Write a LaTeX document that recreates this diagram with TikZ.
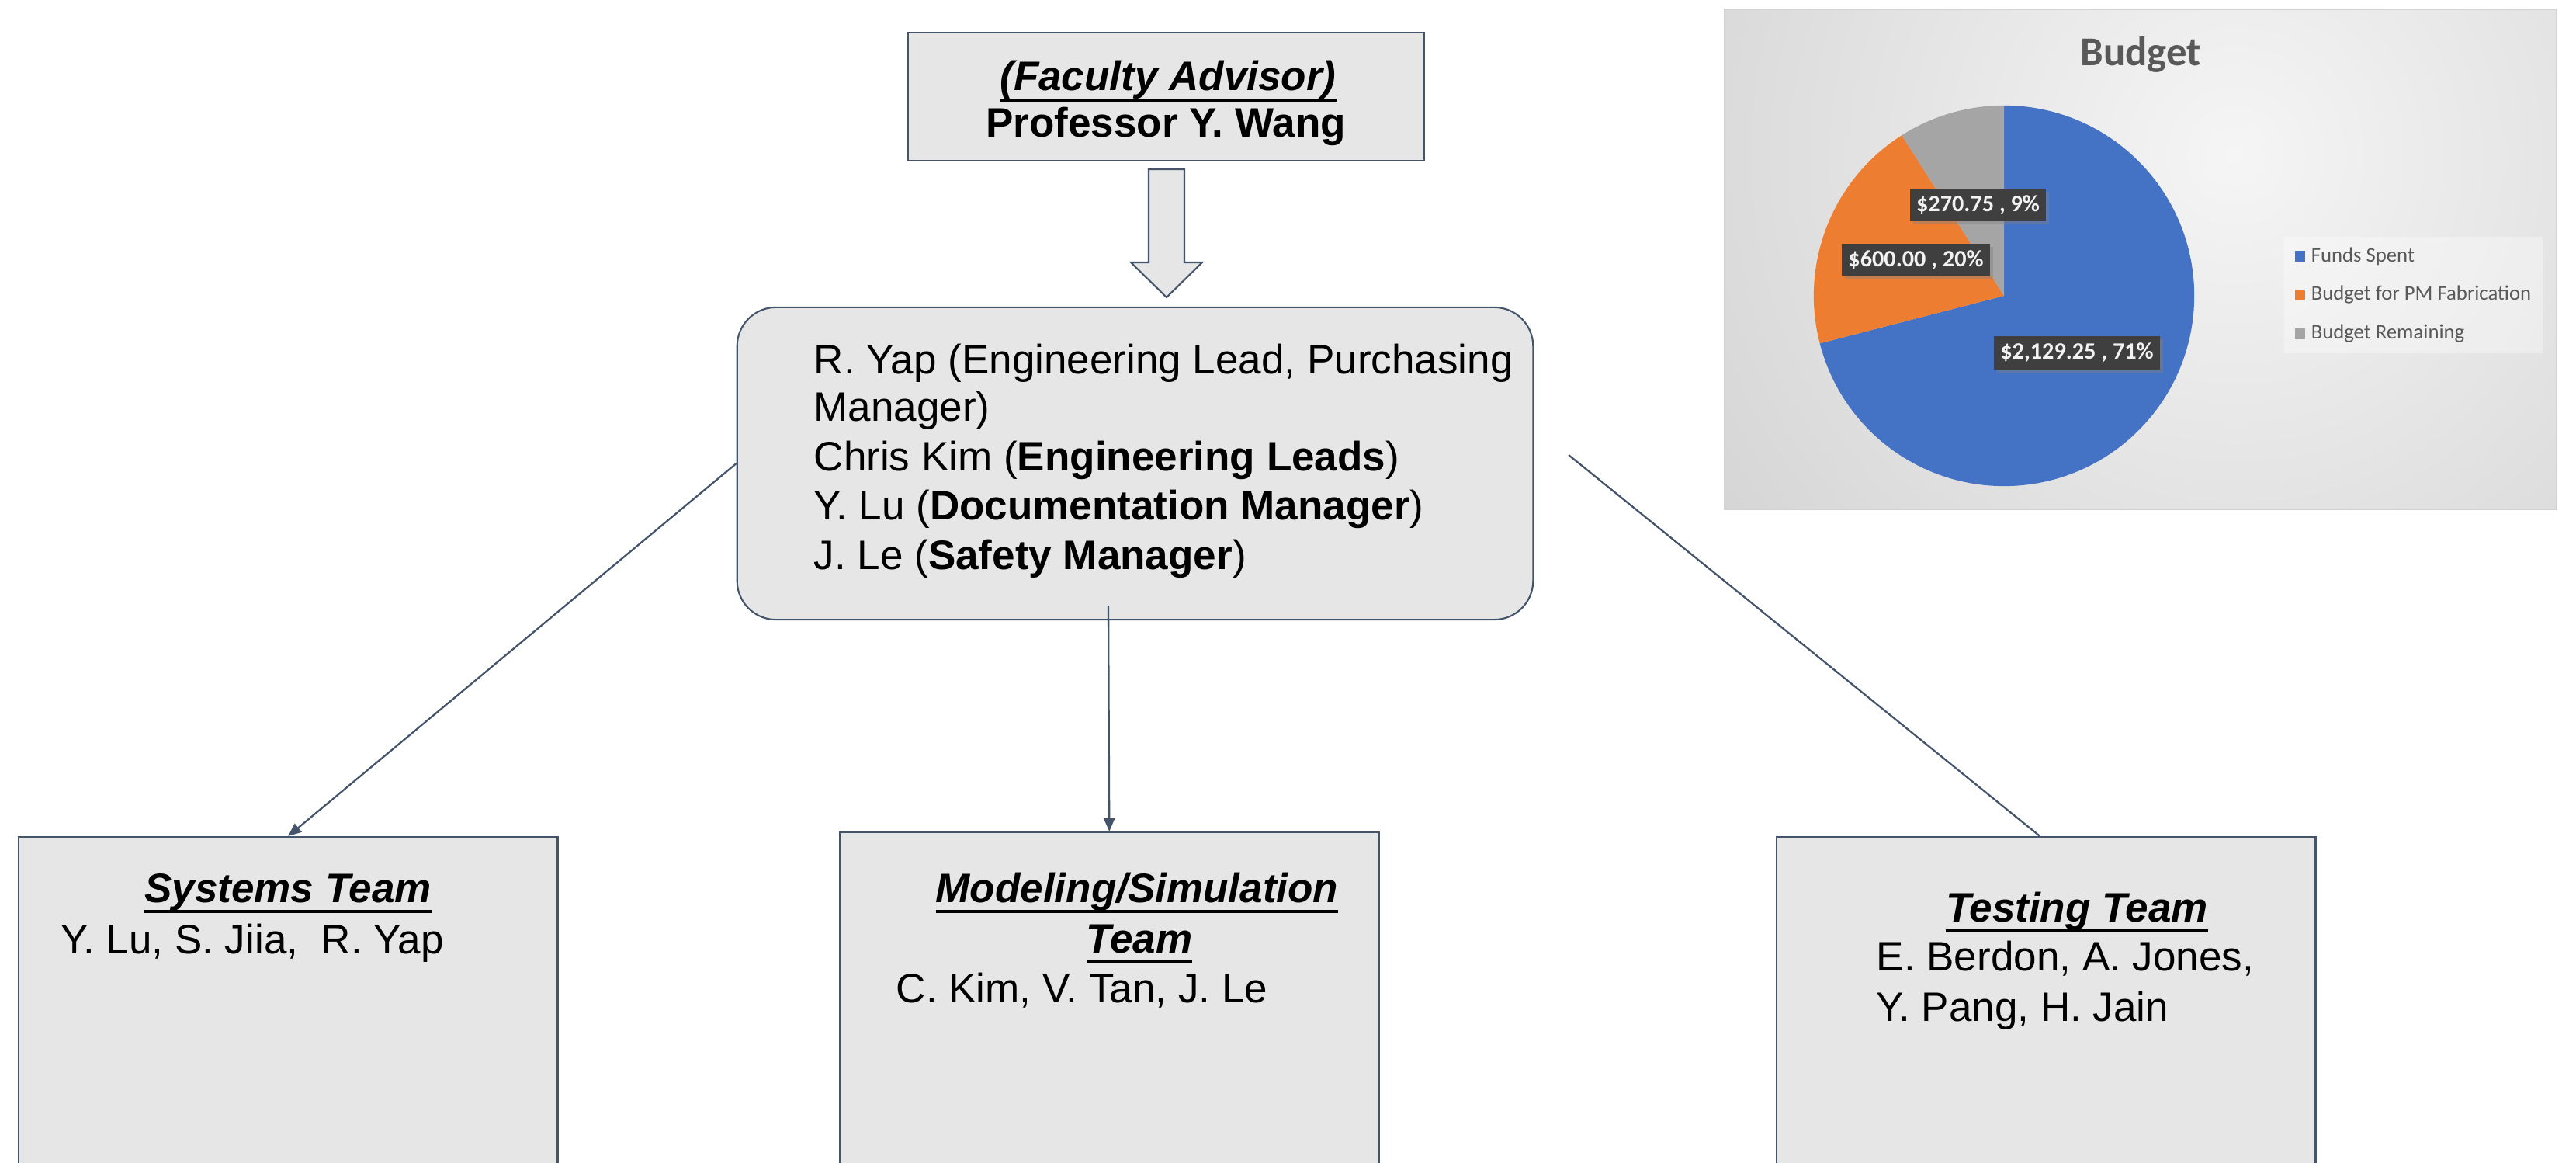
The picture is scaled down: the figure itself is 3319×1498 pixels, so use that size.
\documentclass[tikz,border=0pt]{standalone}
\usepackage{fontspec}
\setmainfont{Liberation Sans}
\newfontfamily\chartfont{Carlito}
\usetikzlibrary{arrows.meta,shadows}

\definecolor{edge}{HTML}{44546A}
\definecolor{boxfill}{HTML}{E6E6E6}
\definecolor{pieblue}{HTML}{4472C4}
\definecolor{pieorange}{HTML}{ED7D31}
\definecolor{piegray}{HTML}{A5A5A5}
\definecolor{chartink}{HTML}{595959}
\definecolor{tagfill}{HTML}{3F3F3F}
\definecolor{chartedge}{HTML}{C4C4C4}
\definecolor{chartlight}{HTML}{F5F5F5}

\newcommand{\bodyfont}{\fontsize{15.08}{18.1}\selectfont}
% underline placed just below the baseline, through the descenders
\newcommand{\ulined}[1]{\setbox0=\hbox{#1}\rlap{\rule[-0.26em]{\wd0}{0.07em}}\box0}

\begin{document}
\begin{tikzpicture}[x=0.01cm, y=-0.01cm,
  orgbox/.style={draw=edge, fill=boxfill, line width=0.6pt, inner sep=0pt},
  lbl/.style={anchor=base west, inner sep=0pt, font=\bodyfont},
  head/.style={anchor=base, inner sep=0pt, font=\bodyfont\bfseries\itshape},
  link/.style={draw=edge, line width=0.65pt},
  headed/.style={-{Triangle[length=0.17cm,width=0.14cm]}},
  tag/.style={fill=tagfill, text=white!95!black, inner xsep=0.08cm, inner ysep=0pt,
    minimum height=0.42cm, font=\chartfont\bfseries\fontsize{8.6}{10}\selectfont,
    drop shadow={shadow xshift=0.04cm, shadow yshift=-0.04cm, opacity=0.4}},
  legtext/.style={anchor=west, inner sep=0pt, text=chartink,
    font=\chartfont\fontsize{7.6}{9}\selectfont},
]
\useasboundingbox (0,0) rectangle (3319,1498);
\clip (0,0) rectangle (3319,1498);

% ---------- organisation chart ----------
\node[orgbox, minimum width=6.65cm, minimum height=1.65cm] (adv) at (1502.5,124.5) {};
\node[head] (advtitle) at (1505,117) {\ulined{(Faculty Advisor)}};
\node[anchor=base, inner sep=0pt, font=\bodyfont\bfseries] (advname) at (1502,177) {Professor Y. Wang};

% block arrow from advisor to leads
\draw[draw=edge, fill=boxfill, line width=0.6pt, line join=miter]
  (1480,218) -- (1526,218) -- (1526,338) -- (1549,338) -- (1503,383)
  -- (1457,338) -- (1480,338) -- cycle;

\node[orgbox, rounded corners=0.5cm, minimum width=10.25cm, minimum height=4.02cm] (core) at (1462.5,597) {};
\node[lbl] (l1) at (1048,482) {R. Yap (Engineering Lead, Purchasing};
\node[lbl] (l2) at (1048,543) {Manager)};
\node[lbl] (l3) at (1048,607) {Chris Kim (\textbf{Engineering Leads})};
\node[lbl] (l4) at (1048,670) {Y. Lu (\textbf{Documentation Manager})};
\node[lbl] (l5) at (1048,734) {J. Le (\textbf{Safety Manager})};

% team boxes (they run past the lower edge)
\node[orgbox, anchor=north west, minimum width=6.94cm, minimum height=5.4cm] (sys) at (23,1077) {};
\node[orgbox, anchor=north west, minimum width=6.94cm, minimum height=5.4cm] (model) at (1081,1071) {};
\node[orgbox, anchor=north west, minimum width=6.94cm, minimum height=5.4cm] (test) at (2288,1077) {};

\node[head] (systitle) at (371,1162) {\ulined{Systems Team}};
\node[lbl] (sysnames) at (78,1228) {Y. Lu, S. Jiia,~ R. Yap};

\node[head] (modtitle1) at (1465,1162) {\ulined{Modeling/Simulation}};
\node[head] (modtitle2) at (1468,1227) {\ulined{Team}};
\node[lbl] (modnames) at (1154,1291) {C. Kim, V. Tan, J. Le};

\node[head] (testtitle) at (2676,1187) {\ulined{Testing Team}};
\node[lbl] (testnames1) at (2417,1250) {E. Berdon, A. Jones,};
\node[lbl] (testnames2) at (2417,1315) {Y. Pang, H. Jain};

% connectors
\coordinate (midstart) at (1428,780);
\coordinate (rightstart) at (2021,586);
\draw[link, headed] (core.west) -- (sys.north);
\draw[link, headed] (midstart) -- (model.north);
\draw[link] (rightstart) -- ([xshift=-0.08cm]test.north);

% ---------- budget chart ----------
\fill[chartedge] (2222,12) rectangle (3294,656);
\begin{scope}
  \clip (2222,12) rectangle (3294,656);
  \shade[inner color=chartlight, outer color=chartedge] (2880,200) circle[radius=12.5cm];
\end{scope}
\draw[gray!35, line width=0.4pt] (2222,12) rectangle (3294,656);

\node[font=\chartfont\bfseries\fontsize{15}{18}\selectfont, text=chartink, inner sep=0pt] (title) at (2758,70) {Budget};

\coordinate (pc) at (2582,381);
\fill[pieblue] (pc) -- ++(90:2.45cm) arc[start angle=90, end angle=-165.51, radius=2.45cm] -- cycle;
\fill[pieorange] (pc) -- ++(194.49:2.45cm) arc[start angle=194.49, end angle=122.49, radius=2.45cm] -- cycle;
\fill[piegray] (pc) -- ++(122.49:2.45cm) arc[start angle=122.49, end angle=90, radius=2.45cm] -- cycle;

\node[tag] (tagrest) at (2548.5,264) {\$270.75 , 9\%};
\node[tag] (tagpm) at (2468.5,335) {\$600.00 , 20\%};
\node[tag] (tagspent) at (2676,454.5) {\$2,129.25 , 71\%};

% legend
\fill[white, opacity=0.35] (2943,305) rectangle (3276,455);
\fill[pieblue] (2957,323) rectangle (2970,337);
\fill[pieorange] (2957,373) rectangle (2970,387);
\fill[piegray] (2957,423) rectangle (2970,437);
\node[legtext] (legspent) at (2977,330) {Funds Spent};
\node[legtext] (legpm) at (2977,380) {Budget for PM Fabrication};
\node[legtext] (legrest) at (2977,430) {Budget Remaining};
\end{tikzpicture}
\end{document}
